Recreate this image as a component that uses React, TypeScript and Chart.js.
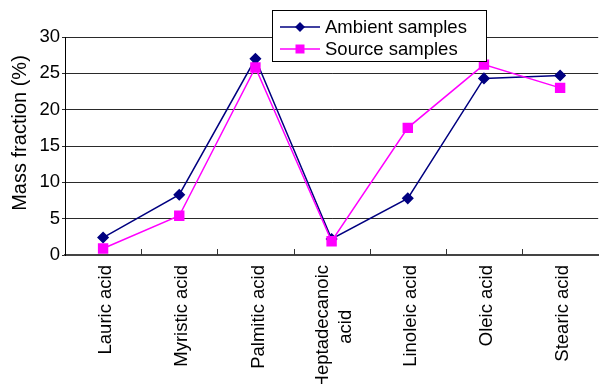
import React, { useEffect, useRef } from "react";
import { Chart, registerables } from "chart.js";

Chart.register(...registerables);

// Fatty acid categories (multi-line labels as arrays)
const categories: (string | string[])[] = [
  "Lauric acid",
  "Myristic acid",
  "Palmitic acid",
  ["Heptadecanoic", "acid"],
  "Linoleic acid",
  "Oleic acid",
  "Stearic acid",
];

// Mass fraction (%) per fatty acid
const ambientSamples = [2.4, 8.3, 27.0, 2.2, 7.8, 24.3, 24.7];
const sourceSamples = [0.9, 5.4, 25.8, 1.9, 17.5, 26.2, 23.0];

const yTicks = [0, 5, 10, 15, 20, 25, 30];
const yTitle = "Mass fraction (%)";

const FONT = '"Liberation Sans", Arial, Helvetica, sans-serif';
const NAVY = "#000080";
const MAGENTA = "#FF00FF";

// Draws the rotated category labels, inner tick marks, y title and the boxed legend
const decorations = {
  id: "decorations",
  afterDraw(chart: any) {
    const ctx = chart.ctx as CanvasRenderingContext2D;
    const xs = chart.scales.x;
    const area = chart.chartArea;
    ctx.save();

    // inner tick marks between categories on the x axis
    ctx.strokeStyle = "#333";
    ctx.lineWidth = 1;
    const n = chart.data.labels.length;
    const slot = (area.right - area.left) / n;
    for (let i = 1; i < n; i++) {
      const x = Math.round(area.left + i * slot) + 0.5;
      ctx.beginPath();
      ctx.moveTo(x, area.bottom - 6);
      ctx.lineTo(x, area.bottom);
      ctx.stroke();
    }

    // rotated category labels
    ctx.fillStyle = "#000";
    ctx.font = `18.5px ${FONT}`;
    ctx.textAlign = "center";
    ctx.textBaseline = "middle";
    const lineGap = 23.5;
    chart.data.labels.forEach((lab: string | string[], i: number) => {
      const lines = Array.isArray(lab) ? lab : [lab];
      const maxW = Math.max(...lines.map((l) => ctx.measureText(l).width));
      const cx = xs.getPixelForValue(i) + 3;
      const top = area.bottom + 10;
      ctx.save();
      ctx.translate(cx, top);
      ctx.rotate(-Math.PI / 2);
      lines.forEach((l, j) => {
        const off = (j - (lines.length - 1) / 2) * lineGap;
        ctx.fillText(l, -maxW / 2, off);
      });
      ctx.restore();
    });

    // y axis title
    ctx.save();
    ctx.font = `20px ${FONT}`;
    ctx.translate(20, 133);
    ctx.rotate(-Math.PI / 2);
    ctx.fillText(yTitle, 0, 0);
    ctx.restore();

    // legend box
    const bx = 272.5, by = 10.5, bw = 214, bh = 51;
    ctx.fillStyle = "#fff";
    ctx.fillRect(bx, by, bw, bh);
    ctx.strokeStyle = "#000";
    ctx.lineWidth = 1;
    ctx.strokeRect(bx, by, bw, bh);
    ctx.font = `18.5px ${FONT}`;
    ctx.textAlign = "left";
    const rows = [27, 49];
    chart.data.datasets.forEach((ds: any, i: number) => {
      const y = rows[i];
      ctx.strokeStyle = ds.borderColor;
      ctx.lineWidth = 1.5;
      ctx.beginPath();
      ctx.moveTo(280, y);
      ctx.lineTo(320, y);
      ctx.stroke();
      ctx.fillStyle = ds.pointBackgroundColor;
      ctx.beginPath();
      if (ds.pointStyle === "rectRot") {
        const r = 5;
        ctx.moveTo(300, y - r);
        ctx.lineTo(300 + r, y);
        ctx.lineTo(300, y + r);
        ctx.lineTo(300 - r, y);
        ctx.closePath();
      } else {
        ctx.rect(300 - 4.5, y - 4.5, 9, 9);
      }
      ctx.fill();
      ctx.fillStyle = "#000";
      ctx.fillText(ds.label, 325, y + 1);
    });

    ctx.restore();
  },
};

export default function App() {
  const canvasRef = useRef<HTMLCanvasElement | null>(null);

  useEffect(() => {
    const canvas = canvasRef.current;
    if (!canvas) return;
    const chart = new Chart(canvas, {
      type: "line",
      data: {
        labels: categories as any,
        datasets: [
          {
            label: "Ambient samples",
            data: ambientSamples,
            borderColor: NAVY,
            backgroundColor: NAVY,
            pointBackgroundColor: NAVY,
            pointBorderColor: NAVY,
            pointStyle: "rectRot",
            pointRadius: 5,
            borderWidth: 1.5,
            tension: 0,
            order: 1,
          },
          {
            label: "Source samples",
            data: sourceSamples,
            borderColor: MAGENTA,
            backgroundColor: MAGENTA,
            pointBackgroundColor: MAGENTA,
            pointBorderColor: MAGENTA,
            pointStyle: "rect",
            pointRadius: 6.3,
            borderWidth: 1.5,
            tension: 0,
            order: 0,
          },
        ],
      },
      options: {
        responsive: false,
        animation: false,
        layout: { padding: { left: 0, right: 1, top: 37, bottom: 0 } },
        plugins: {
          legend: { display: false },
          tooltip: { enabled: false },
          title: { display: false },
        },
        scales: {
          x: {
            type: "category",
            offset: true,
            grid: { display: false },
            border: { display: true, color: "#444", width: 2 },
            ticks: { display: false },
            afterFit: (scale: any) => {
              scale.height = 129;
            },
          },
          y: {
            min: 0,
            max: 30,
            afterBuildTicks: (scale: any) => {
              scale.ticks = yTicks.map((v) => ({ value: v }));
            },
            grid: {
              color: "#2a2a2a",
              lineWidth: 1,
              drawTicks: true,
              tickLength: 3,
            },
            border: { display: true, color: "#000", width: 1 },
            ticks: {
              color: "#000",
              padding: 2,
              font: { family: FONT, size: 18.5 },
            },
            afterFit: (scale: any) => {
              scale.width = 65;
            },
          },
        },
      },
      plugins: [decorations],
    });
    return () => chart.destroy();
  }, []);

  return (
    <div style={{ position: "absolute", left: 0, top: 0, width: 606, height: 384, background: "#fff" }}>
      <canvas ref={canvasRef} width={606} height={384} style={{ display: "block" }} />
    </div>
  );
}
